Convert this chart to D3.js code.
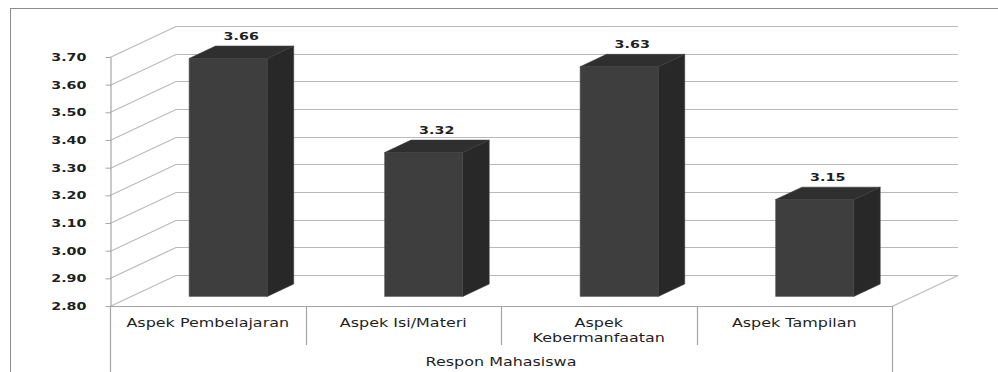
<!DOCTYPE html>
<html>
<head>
<meta charset="utf-8">
<script src="https://cdn.jsdelivr.net/npm/d3@7"></script>
<style>
  body { margin: 0; background: #fff; }
  text { font-family: "DejaVu Sans", Verdana, sans-serif; fill: #1f1f1f; }
</style>
</head>
<body>
<svg></svg>
<script>
const width = 998;
const height = 372;

const categories = ["Aspek Pembelajaran", "Aspek Isi/Materi", "Aspek Kebermanfaatan", "Aspek Tampilan"];
const values = [3.66, 3.32, 3.63, 3.15];
const tickValues = [2.8, 2.9, 3.0, 3.1, 3.2, 3.3, 3.4, 3.5, 3.6, 3.7];
const axisTitle = "Respon Mahasiswa";

// front plane + depth of the 3d box
const plotLeft = 110, plotRight = 892, plotBottom = 306, plotTop = 57;
const depthX = 66, depthY = -31;
const barFront = 0.31, barBack = 0.71; // bar position inside the depth
const stretch = 1.3; // reference text is drawn wide

const svg = d3.select("svg").attr("width", width).attr("height", height);

const xScale = d3.scaleBand().domain(categories).range([plotLeft, plotRight]).paddingInner(0).paddingOuter(0);
const yScale = d3.scaleLinear().domain([2.8, 3.7]).range([plotBottom, plotTop]);

// outer chart border
svg.append("rect")
  .attr("x", 10.5).attr("y", 8.5)
  .attr("width", 1100).attr("height", 500)
  .attr("fill", "none").attr("stroke", "#8c8c8c");

// gridlines (side wall diagonal + back wall)
svg.append("g")
  .selectAll("path")
  .data(tickValues)
  .enter()
  .append("path")
  .attr("d", t => {
    const y = Math.round(yScale(t)) + 0.5;
    return `M${plotLeft},${y} L${plotLeft + depthX},${y + depthY} L${plotRight + depthX},${y + depthY}`;
  })
  .attr("fill", "none")
  .attr("stroke", "#b9b9b9")
  .attr("stroke-width", 1.2);

// floor right edge
svg.append("path")
  .attr("d", `M${plotRight},${plotBottom + 0.5} L${plotRight + depthX},${plotBottom + depthY + 0.5}`)
  .attr("stroke", "#b9b9b9").attr("stroke-width", 1.2).attr("fill", "none");

// category axis lines
svg.append("line")
  .attr("x1", plotLeft).attr("x2", plotRight)
  .attr("y1", plotBottom + 0.5).attr("y2", plotBottom + 0.5)
  .attr("stroke", "#a6a6a6").attr("stroke-width", 1.2);

svg.append("g")
  .selectAll("line")
  .data(d3.range(categories.length + 1))
  .enter()
  .append("line")
  .attr("x1", i => Math.round(plotLeft + i * xScale.bandwidth()) + 0.5)
  .attr("x2", i => Math.round(plotLeft + i * xScale.bandwidth()) + 0.5)
  .attr("y1", plotBottom)
  .attr("y2", i => (i === 0 || i === categories.length) ? 372 : 345)
  .attr("stroke", "#a6a6a6").attr("stroke-width", 1.2);

// value axis on the front plane
const yAxis = d3.axisLeft(yScale)
  .tickValues(tickValues)
  .tickFormat(d3.format(".2f"))
  .tickSize(5)
  .tickSizeOuter(0);

const yG = svg.append("g")
  .attr("transform", `translate(${plotLeft + 0.5},0)`)
  .call(yAxis);
yG.select(".domain").attr("stroke", "#a6a6a6").attr("stroke-width", 1.2);
yG.selectAll(".tick line").attr("stroke", "#a6a6a6");
yG.selectAll(".tick text")
  .attr("x", -24 / stretch)
  .attr("transform", `scale(${stretch},1)`)
  .style("font-size", "11px")
  .style("font-weight", "bold")
  .attr("fill", "#1f1f1f");

// bars
const bw = xScale.bandwidth() * 0.4;
const barX = c => xScale(c) + xScale.bandwidth() * 0.3;

const bars = svg.append("g")
  .selectAll("g")
  .data(categories.map((c, i) => ({ c, v: values[i] })))
  .enter()
  .append("g");

const fx = barFront * depthX, fy = barFront * depthY;
const bx = barBack * depthX, by = barBack * depthY;

// front face
bars.append("path")
  .attr("d", d => {
    const x0 = barX(d.c) + fx, x1 = x0 + bw;
    const y0 = yScale(d.v) + fy, y1 = yScale(2.8) + fy;
    return `M${x0},${y0} L${x1},${y0} L${x1},${y1} L${x0},${y1} Z`;
  })
  .attr("fill", "#3e3e3e").attr("stroke", "#5a5a5a").attr("stroke-width", 0.6);

// side face
bars.append("path")
  .attr("d", d => {
    const x1 = barX(d.c) + fx + bw, x2 = barX(d.c) + bx + bw;
    const yt = yScale(d.v), yb = yScale(2.8);
    return `M${x1},${yt + fy} L${x2},${yt + by} L${x2},${yb + by} L${x1},${yb + fy} Z`;
  })
  .attr("fill", "#282828").attr("stroke", "#3a3a3a").attr("stroke-width", 0.6);

// top face
bars.append("path")
  .attr("d", d => {
    const x0 = barX(d.c);
    const yt = yScale(d.v);
    return `M${x0 + fx},${yt + fy} L${x0 + fx + bw},${yt + fy} L${x0 + bx + bw},${yt + by} L${x0 + bx},${yt + by} Z`;
  })
  .attr("fill", "#2f2f2f").attr("stroke", "#3a3a3a").attr("stroke-width", 0.6);

// value labels
bars.append("text")
  .attr("transform", d => `translate(${barX(d.c) + fx + bw / 2 + 13},${yScale(d.v) + by - 6}) scale(${stretch},1)`)
  .style("text-anchor", "middle")
  .style("font-size", "11px")
  .style("font-weight", "bold")
  .text(d => d.v.toFixed(2));

// category labels, wrapped when too wide for the band
const catG = svg.append("g");
categories.forEach(c => {
  const cx = xScale(c) + xScale.bandwidth() / 2;
  const t = catG.append("text")
    .attr("transform", `translate(${cx},327) scale(1.33,1)`)
    .style("text-anchor", "middle")
    .style("font-size", "12px")
    .text(c);
  if (t.node().getComputedTextLength() * 1.33 > xScale.bandwidth() - 30) {
    const words = c.split(" ");
    t.text(null);
    words.forEach((w, i) => {
      t.append("tspan").attr("x", 0).attr("dy", i === 0 ? 0 : 15).text(w);
    });
  }
});

// axis title
svg.append("text")
  .attr("transform", `translate(${(plotLeft + plotRight) / 2},366) scale(1.33,1)`)
  .style("text-anchor", "middle")
  .style("font-size", "12px")
  .text(axisTitle);
</script>
</body>
</html>
